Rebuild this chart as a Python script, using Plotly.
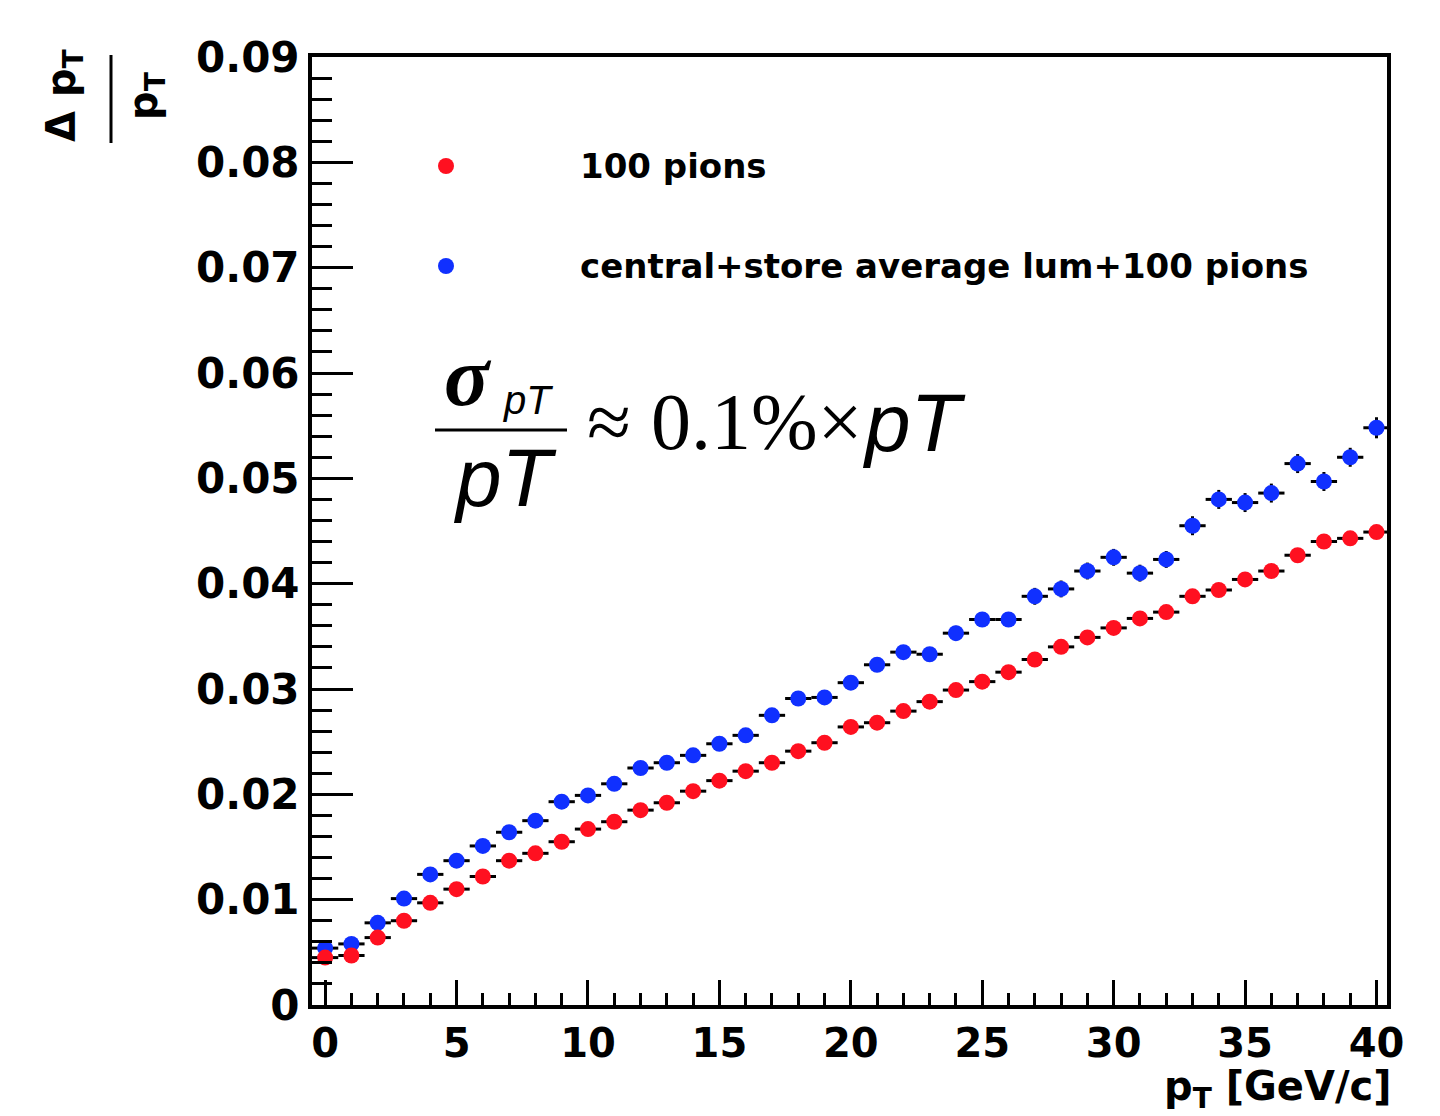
import plotly.graph_objects as go

# ---- data ----
pt = list(range(0, 41))
pions_100 = [0.0045, 0.0047, 0.0064, 0.0080, 0.0097, 0.0110, 0.0122, 0.0137, 0.0144,
             0.0155, 0.0167, 0.0174, 0.0185, 0.0192, 0.0203, 0.0213, 0.0222, 0.0230,
             0.0241, 0.0249, 0.0264, 0.0268, 0.0279, 0.0288, 0.0299, 0.0307, 0.0316,
             0.0328, 0.0340, 0.0349, 0.0358, 0.0367, 0.0373, 0.0388, 0.0394, 0.0404,
             0.0412, 0.0427, 0.0440, 0.0443, 0.0449]
central_store = [0.0054, 0.0058, 0.0078, 0.0101, 0.0124, 0.0137, 0.0151, 0.0164, 0.0175,
                 0.0193, 0.0199, 0.0210, 0.0225, 0.0230, 0.0237, 0.0248, 0.0256, 0.0275,
                 0.0291, 0.0292, 0.0306, 0.0323, 0.0335, 0.0333, 0.0353, 0.0366, 0.0366,
                 0.0388, 0.0395, 0.0412, 0.0425, 0.0410, 0.0423, 0.0455, 0.0480, 0.0477,
                 0.0486, 0.0514, 0.0497, 0.0520, 0.0548]
pions_100_err = [0.0003] * 41
central_store_err = [0.0004, 0.0004, 0.0004, 0.0004, 0.0004, 0.0004, 0.0004, 0.0004, 0.0004,
                     0.0005, 0.0005, 0.0005, 0.0005, 0.0005, 0.0005, 0.0005, 0.0005, 0.0006,
                     0.0006, 0.0006, 0.0006, 0.0006, 0.0006, 0.0006, 0.0007, 0.0007, 0.0007,
                     0.0008, 0.0008, 0.0008, 0.0008, 0.0008, 0.0008, 0.0009, 0.0009, 0.0009,
                     0.0009, 0.0009, 0.0009, 0.0009, 0.0010]
series_names = ["100 pions", "central+store average lum+100 pions"]
series_colors = ["#ff1020", "#1030ff"]

# ---- layout geometry (pixels) ----
W, H = 1440, 1116
L, R, T, B = 312, 53, 57, 111
PW, PH = W - L - R, H - T - B


def px(x):
    return (x - L) / PW


def py(y):
    return (H - B - y) / PH


fig = go.Figure()

for vals, errs, col, name in [(central_store, central_store_err, series_colors[1], series_names[1]),
                              (pions_100, pions_100_err, series_colors[0], series_names[0])]:
    fig.add_trace(go.Scatter(
        x=pt, y=vals, mode="markers", name=name, showlegend=False,
        marker=dict(color=col, size=16, symbol="circle", line=dict(width=0)),
        error_x=dict(type="constant", value=0.5, color="black", thickness=3, width=0),
        error_y=dict(type="data", array=errs, color="black", thickness=3, width=0),
    ))

tick_font = dict(family="DejaVu Sans", size=42, color="black", weight="bold")

fig.update_xaxes(
    range=[-0.5, 40.4], tick0=0, dtick=5, ticks="inside", ticklen=25, tickwidth=3,
    tickcolor="black", showline=True, linewidth=4, linecolor="black", mirror=True,
    showgrid=False, zeroline=False, tickfont=dict(family="DejaVu Sans", size=40, color="black", weight="bold"),
    ticklabelstandoff=0,
    minor=dict(dtick=1, ticks="inside", ticklen=12, tickwidth=3, tickcolor="black", showgrid=False),
)
fig.update_yaxes(
    range=[0, 0.09], tick0=0, dtick=0.01, ticks="inside", ticklen=41, tickwidth=3,
    tickcolor="black", showline=True, linewidth=4, linecolor="black", mirror=True,
    showgrid=False, zeroline=False, tickfont=tick_font, ticklabelstandoff=0,
    minor=dict(dtick=0.002, ticks="inside", ticklen=20, tickwidth=3, tickcolor="black", showgrid=False),
)

annotations = []
shapes = []

# legend
leg_y = [166, 266]
leg_order = [0, 1]
for i, yy in zip(leg_order, leg_y):
    shapes.append(dict(type="circle", xref="paper", yref="paper", xsizemode="pixel",
                       ysizemode="pixel", xanchor=px(446), yanchor=py(yy),
                       x0=-8, x1=8, y0=-8, y1=8, fillcolor=series_colors[i],
                       line=dict(width=0)))
    annotations.append(dict(xref="paper", yref="paper", x=px(578), y=py(yy),
                            xanchor="left", yanchor="middle", showarrow=False,
                            text=series_names[i],
                            font=dict(family="DejaVu Sans", size=34, color="black", weight="bold")))

# x axis title
annotations.append(dict(xref="paper", yref="paper", x=px(1393), y=py(1089),
                        xanchor="right", yanchor="middle", showarrow=False,
                        text="p<sub>T</sub> [GeV/c]",
                        font=dict(family="DejaVu Sans", size=40, color="black", weight="bold")))

# y axis title (rotated fraction)
annotations.append(dict(xref="paper", yref="paper", x=px(64), y=py(96),
                        xanchor="center", yanchor="middle", showarrow=False, textangle=-90,
                        text="Δ p<sub>T</sub>",
                        font=dict(family="DejaVu Sans", size=40, color="black", weight="bold")))
annotations.append(dict(xref="paper", yref="paper", x=px(146), y=py(96),
                        xanchor="center", yanchor="middle", showarrow=False, textangle=-90,
                        text="p<sub>T</sub>",
                        font=dict(family="DejaVu Sans", size=40, color="black", weight="bold")))
shapes.append(dict(type="line", xref="paper", yref="paper", x0=px(111), x1=px(111),
                   y0=py(55), y1=py(143), line=dict(color="black", width=3)))

# formula
annotations.append(dict(xref="paper", yref="paper", x=px(468), y=py(376),
                        xanchor="center", yanchor="middle", showarrow=False,
                        text="<b><i>σ</i></b>",
                        font=dict(family="Liberation Serif", size=84, color="black")))
annotations.append(dict(xref="paper", yref="paper", x=px(528), y=py(400),
                        xanchor="center", yanchor="middle", showarrow=False,
                        text="<i>pT</i>",
                        font=dict(family="Liberation Sans", size=40, color="black")))
shapes.append(dict(type="line", xref="paper", yref="paper", x0=px(435), x1=px(567),
                   y0=py(430), y1=py(430), line=dict(color="black", width=3)))
annotations.append(dict(xref="paper", yref="paper", x=px(505), y=py(478),
                        xanchor="center", yanchor="middle", showarrow=False,
                        text="<i>pT</i>",
                        font=dict(family="Liberation Sans", size=82, color="black")))
annotations.append(dict(xref="paper", yref="paper", x=px(585), y=py(422),
                        xanchor="left", yanchor="middle", showarrow=False,
                        text="≈ 0.1%×",
                        font=dict(family="Liberation Serif", size=80, color="black")))
annotations.append(dict(xref="paper", yref="paper", x=px(860), y=py(422),
                        xanchor="left", yanchor="middle", showarrow=False,
                        text="<i>pT</i>",
                        font=dict(family="Liberation Sans", size=82, color="black")))

fig.update_layout(
    width=W, height=H, margin=dict(l=L, r=R, t=T, b=B, autoexpand=False),
    paper_bgcolor="white", plot_bgcolor="white", showlegend=False,
    annotations=annotations, shapes=shapes,
)

fig.write_html("out.html")
